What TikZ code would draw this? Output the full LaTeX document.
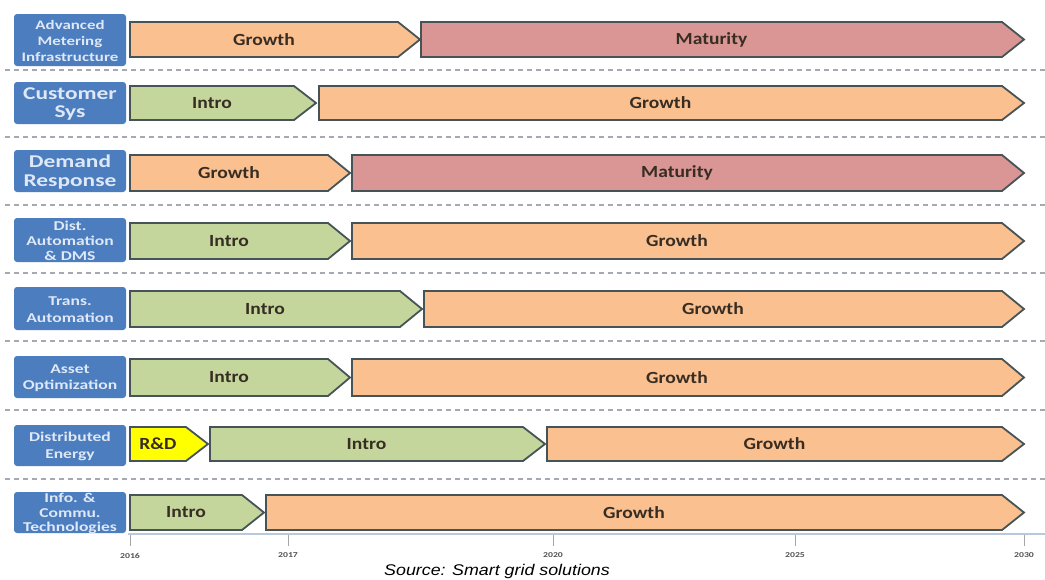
\documentclass[tikz,border=0pt]{standalone}
\usepackage{fontspec}
\setmainfont{Carlito}
\newfontfamily\srcfont[FakeStretch=1.15]{Liberation Sans}
\newfontfamily\lblfont[FakeStretch=1.3]{Carlito}
\newfontfamily\phfont[FakeStretch=1.15]{Carlito}
\definecolor{lblblue}{RGB}{76,125,190}
\definecolor{lbltext}{RGB}{222,232,246}
\definecolor{growthc}{RGB}{250,192,144}
\definecolor{maturc}{RGB}{217,150,148}
\definecolor{introc}{RGB}{196,214,156}
\definecolor{rdc}{RGB}{255,255,0}
\definecolor{chevline}{RGB}{70,84,88}
\definecolor{dashc}{RGB}{165,170,178}
\definecolor{axisc}{RGB}{185,200,220}
\definecolor{txtc}{RGB}{55,45,35}
\tikzset{
  chevshape/.style={draw=chevline, line width=1.8pt, line join=miter},
  phasetext/.style={font=\phfont\bfseries\fontsize{17}{17}\selectfont, text=txtc, inner sep=0pt},
  lblbox/.style={fill=lblblue, rounded corners=3pt, draw=none},
  lbltxt/.style={text=lbltext, align=center, inner sep=0pt},
  rowsep/.style={draw=dashc, line width=1.3pt, dash pattern=on 5pt off 4pt},
  tickmark/.style={draw=gray!70, line width=0.8pt},
  yearlbl/.style={font=\lblfont\bfseries\fontsize{7.5}{7.5}\selectfont, text=gray!65!black, inner sep=0pt},
}
% \chev{x1}{xtip}{ytop}{ybot}{fill}{name}{text}
\newcommand{\chev}[7]{%
  \filldraw[chevshape, fill=#5] (#1,#3) -- ({#2-22},#3) -- (#2,{(#3+#4)/2}) -- ({#2-22},#4) -- (#1,#4) -- cycle;
  \node[phasetext] (#6) at ({(#1+#2-22)/2},{(#3+#4)/2}) {#7};}
% \lbl{ytop}{ybot}{name}{fontsize}{baselineskip}{text}
\newcommand{\lbl}[6]{%
  \fill[lblbox] (14,#1) rectangle (126,#2);
  \node[lbltxt, font=\lblfont\bfseries\fontsize{#4}{#5}\selectfont] (#3) at (70,{(#1+#2)/2+1}) {#6};}
\begin{document}
\begin{tikzpicture}[x=1pt,y=-1pt]
\useasboundingbox (0,0) rectangle (1045,579);
\fill[white] (0,0) rectangle (1045,579);

% Row 1
\lbl{14}{66}{l1}{13}{16}{Advanced\\Metering\\Infrastructure}
\chev{130}{420}{22}{57}{growthc}{p1a}{Growth}
\chev{421}{1024}{22}{57}{maturc}{p1b}{Maturity}
\coordinate (d1a) at (5,70); \coordinate (d1b) at (1045,70);
\draw[rowsep] (d1a) -- (d1b);

% Row 2
\lbl{82}{124}{l2}{18}{18.5}{Customer\\Sys}
\chev{130}{316}{86}{120}{introc}{p2a}{Intro}
\chev{319}{1024}{86}{120}{growthc}{p2b}{Growth}
\coordinate (d2a) at (5,137); \coordinate (d2b) at (1045,137);
\draw[rowsep] (d2a) -- (d2b);

% Row 3
\lbl{150}{192}{l3}{18}{18.5}{Demand\\Response}
\chev{130}{350}{155}{191}{growthc}{p3a}{Growth}
\chev{352}{1024}{155}{191}{maturc}{p3b}{Maturity}
\coordinate (d3a) at (5,205); \coordinate (d3b) at (1045,205);
\draw[rowsep] (d3a) -- (d3b);

% Row 4
\lbl{218}{262}{l4}{13.5}{15}{Dist.\\Automation\\\& DMS}
\chev{130}{350}{223}{259}{introc}{p4a}{Intro}
\chev{352}{1024}{223}{259}{growthc}{p4b}{Growth}
\coordinate (d4a) at (5,273); \coordinate (d4b) at (1045,273);
\draw[rowsep] (d4a) -- (d4b);

% Row 5
\lbl{287}{330}{l5}{13.5}{16.5}{Trans.\\Automation}
\chev{130}{422}{291}{327}{introc}{p5a}{Intro}
\chev{424}{1024}{291}{327}{growthc}{p5b}{Growth}
\coordinate (d5a) at (5,341); \coordinate (d5b) at (1045,341);
\draw[rowsep] (d5a) -- (d5b);

% Row 6
\lbl{356}{398}{l6}{13.5}{16.5}{Asset\\Optimization}
\chev{130}{350}{359}{396}{introc}{p6a}{Intro}
\chev{352}{1024}{359}{396}{growthc}{p6b}{Growth}
\coordinate (d6a) at (5,410); \coordinate (d6b) at (1045,410);
\draw[rowsep] (d6a) -- (d6b);

% Row 7
\lbl{425}{466}{l7}{13.5}{16.5}{Distributed\\Energy}
\chev{130}{208}{427}{461}{rdc}{p7a}{R\&D}
\chev{210}{545}{427}{461}{introc}{p7b}{Intro}
\chev{547}{1024}{427}{461}{growthc}{p7c}{Growth}
\coordinate (d7a) at (5,479); \coordinate (d7b) at (1045,479);
\draw[rowsep] (d7a) -- (d7b);

% Row 8
\lbl{492}{533}{l8}{13.5}{14.5}{Info. \&\\Commu.\\Technologies}
\chev{130}{264}{495}{530}{introc}{p8a}{Intro}
\chev{266}{1024}{495}{530}{growthc}{p8b}{Growth}

% Axis
\coordinate (ax0) at (128,534); \coordinate (ax1) at (1045,534);
\draw[draw=axisc, line width=1.2pt] (ax0) -- (ax1);
\foreach \xx/\yr/\nm in {130/2016/y16, 288/2017/y17, 553/2020/y20, 795/2025/y25, 1024/2030/y30}{
  \coordinate (t\nm) at (\xx,535);
  \coordinate (b\nm) at (\xx,546);
  \draw[tickmark] (t\nm) -- (b\nm);
  \node[yearlbl] (\nm) at (\xx,555.5) {\yr};
}

% Source
\node[font=\srcfont\itshape\fontsize{15.5}{15.5}\selectfont, text=black, inner sep=0pt, anchor=base] (src) at (497,575) {Source: Smart grid solutions};
\end{tikzpicture}
\end{document}
